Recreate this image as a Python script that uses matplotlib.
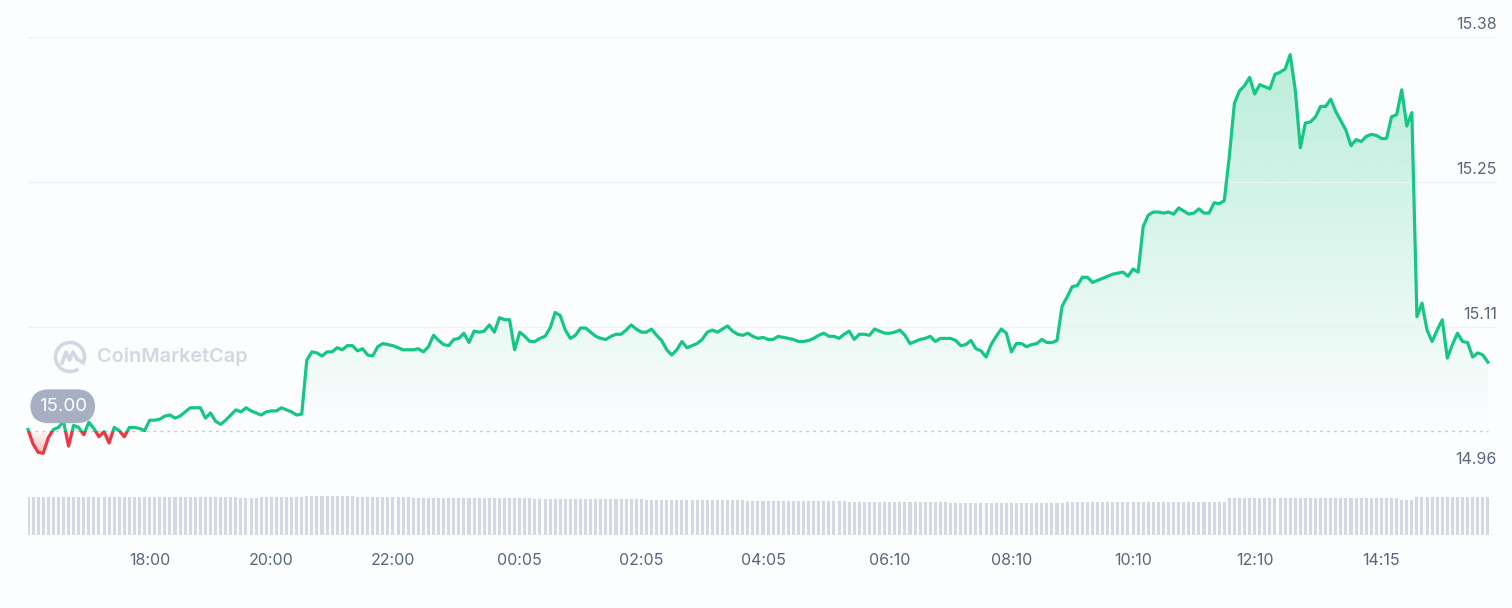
import numpy as np
import matplotlib.pyplot as plt
from matplotlib.patches import Rectangle, Arc
from matplotlib.transforms import IdentityTransform, blended_transform_factory, offset_copy

# 24h price, one point every 5 minutes from 16:00
start_time = '16:00'
open_price = 15.00
price = [
    15.001, 14.987, 14.979, 14.978, 14.993, 15.001, 15.003, 15.009, 14.985, 15.005, 15.003, 14.996,
    15.008, 15.002, 14.994, 14.999, 14.988, 15.003, 15.000, 14.994, 15.003, 15.003, 15.002, 15.000,
    15.010, 15.010, 15.011, 15.014, 15.015, 15.012, 15.014, 15.018, 15.022, 15.022, 15.022, 15.012,
    15.017, 15.009, 15.006, 15.010, 15.015, 15.020, 15.018, 15.022, 15.019, 15.017, 15.015, 15.018,
    15.019, 15.019, 15.022, 15.020, 15.018, 15.015, 15.016, 15.068, 15.076, 15.075, 15.072, 15.076,
    15.076, 15.080, 15.078, 15.082, 15.082, 15.077, 15.079, 15.073, 15.072, 15.081, 15.084, 15.083,
    15.082, 15.080, 15.078, 15.078, 15.078, 15.079, 15.076, 15.081, 15.092, 15.087, 15.083, 15.082,
    15.088, 15.089, 15.094, 15.085, 15.096, 15.095, 15.096, 15.102, 15.095, 15.109, 15.107, 15.107,
    15.078, 15.095, 15.091, 15.086, 15.086, 15.089, 15.091, 15.099, 15.114, 15.111, 15.097, 15.089,
    15.092, 15.099, 15.099, 15.095, 15.091, 15.089, 15.088, 15.091, 15.093, 15.093, 15.097, 15.102,
    15.098, 15.095, 15.095, 15.098, 15.092, 15.087, 15.078, 15.073, 15.078, 15.086, 15.080, 15.082,
    15.084, 15.088, 15.095, 15.097, 15.095, 15.098, 15.101, 15.096, 15.093, 15.092, 15.094, 15.091,
    15.089, 15.090, 15.088, 15.088, 15.091, 15.090, 15.089, 15.088, 15.086, 15.086, 15.087, 15.089,
    15.092, 15.094, 15.091, 15.091, 15.089, 15.093, 15.096, 15.088, 15.093, 15.093, 15.092, 15.098,
    15.096, 15.094, 15.094, 15.095, 15.097, 15.092, 15.084, 15.086, 15.088, 15.089, 15.091, 15.086,
    15.089, 15.089, 15.089, 15.087, 15.082, 15.083, 15.087, 15.079, 15.077, 15.071, 15.083, 15.091,
    15.098, 15.094, 15.076, 15.084, 15.084, 15.081, 15.083, 15.084, 15.088, 15.085, 15.085, 15.087,
    15.120, 15.129, 15.139, 15.140, 15.148, 15.148, 15.143, 15.145, 15.147, 15.149, 15.151, 15.152,
    15.153, 15.149, 15.156, 15.153, 15.197, 15.208, 15.211, 15.211, 15.210, 15.211, 15.209, 15.215,
    15.212, 15.209, 15.210, 15.214, 15.210, 15.210, 15.220, 15.219, 15.222, 15.265, 15.316, 15.328,
    15.333, 15.341, 15.325, 15.334, 15.332, 15.330, 15.344, 15.346, 15.349, 15.363, 15.329, 15.273,
    15.297, 15.298, 15.303, 15.313, 15.313, 15.320, 15.308, 15.299, 15.290, 15.275, 15.281, 15.279,
    15.284, 15.286, 15.285, 15.282, 15.282, 15.303, 15.305, 15.329, 15.294, 15.307, 15.110, 15.123,
    15.097, 15.086, 15.097, 15.107, 15.070, 15.083, 15.094, 15.086, 15.085, 15.071, 15.075, 15.073, 15.066,
]
volume = [
    38.3, 38.3, 38.2, 38.3, 38.3, 38.2, 38.3, 38.3, 38.3, 38.2, 38.3, 38.3,
    38.3, 38.2, 38.2, 38.3, 38.3, 38.3, 38.2, 38.3, 38.3, 38.3, 38.4, 38.4,
    38.3, 38.3, 38.3, 38.2, 38.3, 38.3, 38.3, 38.3, 38.3, 38.4, 38.4, 38.3,
    38.3, 38.2, 38.2, 38.2, 38.1, 37.9, 37.1, 37.0, 37.0, 37.1, 37.6, 37.7,
    37.8, 37.8, 37.8, 37.8, 37.8, 37.9, 37.9, 39.0, 39.1, 39.1, 39.2, 39.2,
    39.1, 39.1, 39.0, 39.0, 38.9, 38.4, 38.0, 38.0, 37.9, 37.9, 37.8, 37.8,
    37.8, 37.8, 37.6, 37.6, 37.5, 37.4, 37.3, 37.2, 37.1, 37.1, 37.0, 37.0,
    37.0, 37.0, 37.0, 36.9, 36.9, 36.9, 36.9, 36.8, 36.8, 36.8, 36.7, 36.7,
    36.7, 36.6, 36.6, 36.6, 36.5, 36.5, 36.4, 36.4, 36.4, 36.3, 36.3, 36.3,
    36.2, 36.2, 36.1, 36.1, 36.0, 36.0, 35.9, 35.9, 35.8, 35.8, 35.7, 35.7,
    35.6, 35.6, 35.5, 35.5, 35.4, 35.4, 35.3, 35.3, 35.2, 35.2, 35.1, 35.1,
    35.0, 35.0, 34.9, 34.9, 34.8, 34.8, 34.7, 34.7, 34.6, 34.6, 34.5, 34.5,
    34.4, 34.4, 34.3, 34.3, 34.2, 34.2, 34.1, 34.1, 34.0, 34.0, 33.9, 33.9,
    33.8, 33.8, 33.7, 33.7, 33.6, 33.6, 33.5, 33.5, 33.4, 33.4, 33.3, 33.3,
    33.2, 33.2, 33.1, 33.1, 33.0, 33.0, 32.9, 32.9, 32.8, 32.8, 32.7, 32.7,
    32.6, 32.6, 32.5, 32.5, 32.4, 32.4, 32.3, 32.3, 32.2, 32.2, 32.1, 32.1,
    32.0, 32.0, 31.9, 31.9, 31.8, 31.8, 31.7, 31.7, 31.7, 31.7, 31.7, 31.7,
    31.7, 33.2, 33.3, 33.3, 33.3, 33.3, 33.3, 33.3, 33.3, 33.3, 33.3, 33.3,
    33.3, 33.3, 33.3, 33.3, 33.3, 33.4, 33.4, 33.4, 33.4, 33.4, 33.4, 33.4,
    33.4, 33.4, 33.4, 33.4, 33.4, 33.4, 33.4, 33.4, 33.4, 36.6, 36.7, 36.7,
    36.7, 36.7, 36.7, 36.7, 36.7, 36.7, 36.7, 36.7, 36.7, 36.7, 36.7, 36.7,
    36.7, 36.7, 36.7, 36.7, 36.7, 36.7, 36.7, 36.6, 36.6, 36.6, 36.6, 36.6,
    36.6, 36.6, 36.6, 36.6, 36.6, 36.6, 36.6, 35.0, 35.0, 35.1, 38.4, 38.5,
    38.5, 38.5, 38.5, 38.5, 38.5, 38.5, 38.5, 38.5, 38.5, 38.5, 38.4, 38.4, 38.4,
]
tick_times = ['18:00', '20:00', '22:00', '00:05', '02:05', '04:05',
              '06:10', '08:10', '10:10', '12:10', '14:15']
y_labels = ['14.96', '15.11', '15.25', '15.38']
y_min, y_max = 14.96, 15.38

GREEN = '#16c784'
RED = '#ea3943'
TXT = '#58667e'
BG = '#fcfdfe'


def to_index(t):
    h, m = map(int, t.split(':'))
    h0, m0 = map(int, start_time.split(':'))
    return ((h * 60 + m) - (h0 * 60 + m0)) % 1440 / 5


plt.rcParams['font.family'] = ['Inter', 'DejaVu Sans']

W, H = 1512, 608
fig = plt.figure(figsize=(W / 100, H / 100), dpi=100, facecolor=BG)


def box(x0, y0, x1, y1):
    # pixel box (top-left origin) -> figure fraction
    return [x0 / W, 1 - y1 / H, (x1 - x0) / W, (y1 - y0) / H]


ax = fig.add_axes(box(28, 37, 1497, 472))
vax = fig.add_axes(box(28, 495, 1497, 535))

t = np.arange(len(price))
p = np.array(price)
x_max = len(price) - 1 + 1.8

# gradient fill between line and the open price
grid_y = np.linspace(y_min, y_max, 400)
img = np.zeros((400, 1, 4))
up = grid_y >= open_price
img[up, 0, :3] = [22 / 255, 199 / 255, 132 / 255]
img[up, 0, 3] = 0.30 * (grid_y[up] - open_price) / (y_max - open_price)
img[~up, 0, :3] = [234 / 255, 57 / 255, 67 / 255]
img[~up, 0, 3] = 0.6 * (open_price - grid_y[~up]) / (open_price - y_min)
fb = ax.fill_between(t, p, open_price, color='none', lw=0)
im = ax.imshow(img, extent=[0, len(price) - 1, y_min, y_max], origin='lower',
               aspect='auto', interpolation='bilinear', zorder=1)
im.set_clip_path(fb.get_paths()[0], ax.transData)

# line: green above the open price, red below
lg, = ax.plot(t, p, color=GREEN, lw=2.3, solid_joinstyle='round', zorder=3)
lr, = ax.plot(t, p, color=RED, lw=2.3, solid_joinstyle='round', zorder=3)
lg.set_clip_path(Rectangle((-10, open_price), 400, 5, transform=ax.transData))
lr.set_clip_path(Rectangle((-10, open_price - 5), 400, 5, transform=ax.transData))

ax.plot([0, len(price) - 1], [open_price, open_price], color='#c4cad5', lw=1,
        linestyle=(0, (2, 3)), zorder=2)

ax.set_xlim(0, x_max)
ax.set_ylim(y_min, y_max)
ax.set_yticks(np.linspace(y_min, y_max, 4))
ax.set_xticks([])
ax.tick_params(left=False, labelleft=False)
ax.grid(axis='y', color='#eef0f4', lw=1)
ax.set_facecolor('none')
for s in ax.spines.values():
    s.set_visible(False)

lab_tr = offset_copy(blended_transform_factory(ax.transAxes, ax.transData),
                     fig=fig, y=3.5, units='points')
for v, s in zip(np.linspace(y_min, y_max, 4), y_labels):
    ax.text(1.0, v, s, transform=lab_tr, ha='right', va='bottom',
            fontsize=11.5, color=TXT, clip_on=False)

# open price badge
ax.annotate('%.2f' % open_price, xy=(0, open_price), xytext=(25, 17.5),
            textcoords='offset points', ha='center', va='center',
            fontsize=13.5, color='white', zorder=5,
            bbox=dict(boxstyle='round,pad=0.45,rounding_size=1.0',
                      fc='#a7b0c2', ec='none'))

# volume bars
vax.bar(t, volume, width=0.6, color='#d3d8e2', lw=0)
vax.set_xlim(0, x_max)
vax.set_ylim(0, 40)
vax.set_facecolor('none')
for s in vax.spines.values():
    s.set_visible(False)
vax.axhline(0, color='#e3e6ec', lw=1)
vax.set_yticks([])
vax.set_xticks([to_index(s) for s in tick_times])
vax.set_xticklabels(tick_times, fontsize=11.5, color=TXT)
vax.tick_params(axis='x', length=0, pad=13)

# watermark
wm = '#d2d8e2'
fig.text(97 / W, 1 - 357 / H, 'CoinMarketCap', fontsize=14.3, color=wm,
         fontweight='semibold', ha='left', va='center')
cx, cy = 70, H - 357
fig.add_artist(Arc((cx, cy), 29, 29, theta1=-30, theta2=305, lw=2.6, color=wm,
                   transform=IdentityTransform()))
fig.add_artist(plt.Line2D([cx - 8, cx - 4, cx - 0.5, cx + 3, cx + 7, cx + 12],
                          [cy - 6, cy + 5, cy - 3, cy + 5, cy - 2, cy - 5],
                          lw=2.6, color=wm, solid_joinstyle='round',
                          transform=IdentityTransform()))

fig.savefig('out.png', dpi=100, facecolor=BG)
